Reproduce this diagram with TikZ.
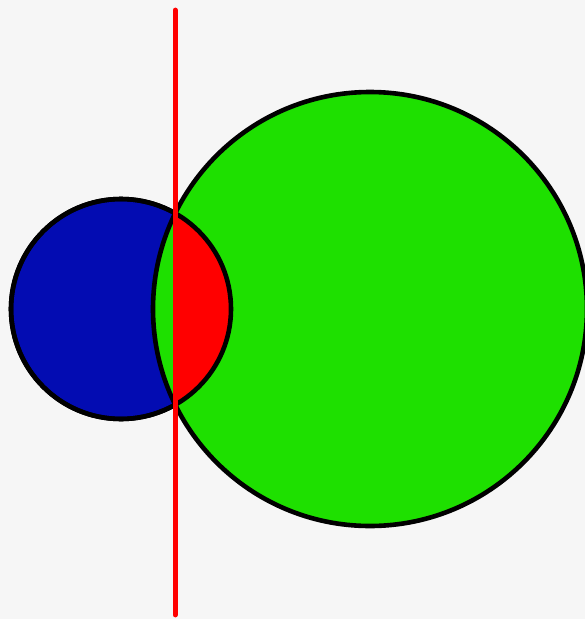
\documentclass[tikz,border=0pt]{standalone}
\usepackage{xcolor}
\usepackage{tikz}
\usetikzlibrary{calc, backgrounds}

\definecolor{kreisblau}{RGB}{3,12,178}
\definecolor{kreisgruen}{RGB}{30,224,0}
\definecolor{hintergrund}{RGB}{246,246,246}

\begin{document}
\begin{tikzpicture}[
		x=0.025cm, y=-0.025cm,            % 1 Einheit = 1 Pixel
		rand/.style={
			draw=black,
			line width=0.115cm},
		achse/.style={
			draw=red,
			line width=0.12cm,
			line cap=round}
		]
		
		% Hintergrund und Rahmen
		\fill[hintergrund] (0,0) rectangle (585,619);
		\useasboundingbox (0,0) rectangle (585,619);
		
		% Mittelpunkte und Schnittgerade
		\coordinate (mb) at (121,309);
		\coordinate (mg) at (370,309);
		\coordinate (oben) at (175.2,10);
		\coordinate (unten) at (175.2,615);
		
		% 1. Blauer Kreis
		\fill[kreisblau] (mb) circle (110);
		\draw[rand] (mb) circle (110);
		
		% 2. Gruener Kreis
		\fill[kreisgruen] (mg) circle (217);
		\draw[rand] (mg) circle (217);
		
		% 3. Roter Teil rechts der Geraden
		\begin{scope}
			\clip (175.2,0) rectangle (585,619);
			\fill[red] (mb) circle (110);
		\end{scope}
		\draw[rand] (mb) circle (110);
		
		% 4. Gerade
		\draw[achse] (oben) -- (unten);
		
	\end{tikzpicture}
\end{document}
